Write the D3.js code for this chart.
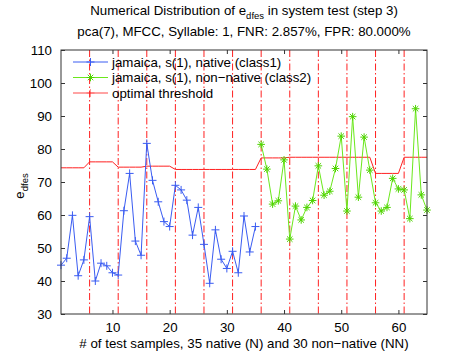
<!DOCTYPE html>
<html>
<head>
<meta charset="utf-8">
<script src="https://cdn.jsdelivr.net/npm/d3@7"></script>
<style>
  body { margin: 0; background: #fff; }
  text { font-family: "Liberation Sans", Arial, sans-serif; fill: #000; }
</style>
</head>
<body>
<div id="graph"></div>
<script>
// scores, one per test sample
var nativeScores = [44.8, 46.9, 59.9, 41.6, 46.4, 59.5, 40.0, 45.4, 44.6, 42.5,
                    41.8, 61.3, 72.6, 52.1, 47.8, 81.7, 70.5, 64.0, 58.0, 56.5,
                    69.0, 67.6, 64.5, 53.9, 62.3, 51.1, 39.3, 55.5, 46.6, 43.8,
                    49.0, 42.5, 59.7, 48.8, 56.5];
var nonNativeScores = [81.4, 73.9, 63.3, 64.3, 76.7, 52.7, 62.7, 58.5, 62.3, 64.4,
                       74.9, 66.0, 67.2, 74.1, 83.9, 61.2, 89.8, 65.4, 83.6, 73.6,
                       63.7, 61.2, 62.3, 71.1, 67.9, 67.6, 58.9, 92.2, 66.1, 61.5];
var thresholdLevels = [74.3, 74.3, 74.3, 74.3, 74.3, 76.1, 76.1, 76.1, 76.1, 76.1,
                       74.5, 74.5, 74.5, 74.5, 74.5, 74.8, 74.8, 74.8, 74.8, 74.8,
                       73.8, 73.8, 73.8, 73.8, 73.8, 73.8, 73.8, 73.8, 73.8, 73.8,
                       73.8, 73.8, 73.8, 73.8, 73.8, 77.3, 77.3, 77.3, 77.3, 77.3,
                       77.5, 77.5, 77.5, 77.5, 77.5, 77.5, 77.5, 77.5, 77.5, 77.5,
                       77.5, 77.5, 77.5, 77.5, 77.5, 72.6, 72.6, 72.6, 72.6, 72.6,
                       77.5, 77.5, 77.5, 77.5, 77.5];
var groupBreaks = [6, 11, 16, 21, 26, 31, 36, 41, 46, 51, 56, 61];
var xTicks = [10, 20, 30, 40, 50, 60];
var yTicks = [30, 40, 50, 60, 70, 80, 90, 100, 110];
var legendLabels = ["jamaica, s(1), native (class1)",
                    "jamaica, s(1), non\u2212native (class2)",
                    "optimal threshold"];

var W = 471, H = 354;
var margin = {top: 50, right: 44, bottom: 40, left: 61};
var width = W - margin.left - margin.right,
    height = H - margin.top - margin.bottom;
var fs = "13.3px";

var svg = d3.select("#graph")
  .append("svg")
    .attr("width", W)
    .attr("height", H);

var g = svg.append("g")
    .attr("transform", "translate(" + margin.left + "," + margin.top + ")");

var x = d3.scaleLinear().domain([1, thresholdLevels.length]).range([0, width]);
var y = d3.scaleLinear().domain([30, 110]).range([height, 0]);

var nativeData = nativeScores.map(function(v, i) { return {n: i + 1, v: v}; });
var nonNativeData = nonNativeScores.map(function(v, i) {
  return {n: nativeScores.length + i + 1, v: v};
});
var threshData = thresholdLevels.map(function(v, i) { return {n: i + 1, v: v}; });

var line = d3.line()
  .x(function(d) { return x(d.n); })
  .y(function(d) { return y(d.v); });

var blue = "#3a5cf2", green = "#6be81c", greenDark = "#4fd400", red = "#ff2020";

// group separators
g.selectAll(".sep")
  .data(groupBreaks)
  .enter().append("line")
    .attr("class", "sep")
    .attr("x1", function(d) { return x(d); })
    .attr("x2", function(d) { return x(d); })
    .attr("y1", 0)
    .attr("y2", height)
    .attr("stroke", red)
    .attr("stroke-width", 1)
    .attr("stroke-dasharray", "7,2.5,1.5,2.5");

// threshold
g.append("path")
  .datum(threshData)
  .attr("d", line)
  .attr("fill", "none")
  .attr("stroke", red)
  .attr("stroke-width", 1);

// native series
g.append("path")
  .datum(nativeData)
  .attr("d", line)
  .attr("fill", "none")
  .attr("stroke", blue)
  .attr("stroke-width", 1);

function plus(sel, s) {
  sel.append("line").attr("x1", -s).attr("x2", s).attr("y1", 0).attr("y2", 0);
  sel.append("line").attr("x1", 0).attr("x2", 0).attr("y1", -s).attr("y2", s);
}
function star(sel, s) {
  var d = s * 0.72;
  plus(sel, s);
  sel.append("line").attr("x1", -d).attr("x2", d).attr("y1", -d).attr("y2", d);
  sel.append("line").attr("x1", -d).attr("x2", d).attr("y1", d).attr("y2", -d);
}

g.selectAll(".pn")
  .data(nativeData)
  .enter().append("g")
    .attr("class", "pn")
    .attr("transform", function(d) { return "translate(" + x(d.n) + "," + y(d.v) + ")"; })
    .attr("stroke", blue)
    .attr("stroke-width", 1)
    .each(function() { plus(d3.select(this), 4); });

// non-native series
g.append("path")
  .datum(nonNativeData)
  .attr("d", line)
  .attr("fill", "none")
  .attr("stroke", green)
  .attr("stroke-width", 1);

g.selectAll(".pnn")
  .data(nonNativeData)
  .enter().append("g")
    .attr("class", "pnn")
    .attr("transform", function(d) { return "translate(" + x(d.n) + "," + y(d.v) + ")"; })
    .attr("stroke", greenDark)
    .attr("stroke-width", 1)
    .each(function() { star(d3.select(this), 3.8); });

// axes box, matlab style ticks pointing in
var axisColor = "#333";
g.append("rect")
  .attr("x", 0).attr("y", 0)
  .attr("width", width).attr("height", height)
  .attr("fill", "none")
  .attr("stroke", axisColor)
  .attr("stroke-width", 1);

var xAxis = g.append("g")
  .attr("transform", "translate(0," + height + ")")
  .call(d3.axisBottom(x).tickValues(xTicks).tickSizeInner(-4).tickSizeOuter(0).tickPadding(9));
var xTop = g.append("g")
  .call(d3.axisTop(x).tickValues(xTicks).tickSizeInner(-4).tickSizeOuter(0).tickFormat(""));
var yAxis = g.append("g")
  .call(d3.axisLeft(y).tickValues(yTicks).tickSizeInner(-4).tickSizeOuter(0).tickPadding(9));
var yRight = g.append("g")
  .attr("transform", "translate(" + width + ",0)")
  .call(d3.axisRight(y).tickValues(yTicks).tickSizeInner(-4).tickSizeOuter(0).tickFormat(""));

[xAxis, xTop, yAxis, yRight].forEach(function(a) {
  a.select(".domain").remove();
  a.selectAll(".tick line").attr("stroke", axisColor);
  a.selectAll("text")
    .style("font-size", fs)
    .style("font-family", "'Liberation Sans', Arial, sans-serif")
    .attr("fill", "#000");
});

// legend
var leg = g.append("g").attr("transform", "translate(12,12)");
var legColors = [blue, green, red];
legendLabels.forEach(function(lbl, i) {
  var row = leg.append("g").attr("transform", "translate(0," + (i * 15.5) + ")");
  row.append("line")
    .attr("x1", 0).attr("x2", 35)
    .attr("y1", 0).attr("y2", 0)
    .attr("stroke", legColors[i])
    .attr("stroke-width", i === 2 ? 1.6 : 1)
    .attr("stroke-opacity", i === 2 ? 0.55 : 1);
  var m = row.append("g")
    .attr("transform", "translate(17.5,0)")
    .attr("stroke", i === 1 ? greenDark : legColors[i])
    .attr("stroke-width", 1)
    .attr("stroke-opacity", i === 2 ? 0.45 : 1);
  if (i === 1) star(m, 3.8);
  else plus(m, 4);
  row.append("text")
    .attr("x", 39)
    .attr("y", 4.5)
    .style("font-size", fs)
    .text(lbl);
});

// titles
var cx = margin.left + width / 2;
var t1 = svg.append("text")
  .attr("x", cx).attr("y", 15)
  .attr("text-anchor", "middle")
  .style("font-size", fs);
t1.append("tspan").text("Numerical Distribution of e");
t1.append("tspan").attr("dy", 4).style("font-size", "9.5px").text("dfes");
t1.append("tspan").attr("dy", -4).text(" in system test (step 3)");

svg.append("text")
  .attr("x", cx).attr("y", 36)
  .attr("text-anchor", "middle")
  .style("font-size", fs)
  .text("pca(7), MFCC, Syllable: 1, FNR: 2.857%, FPR: 80.000%");

svg.append("text")
  .attr("x", cx).attr("y", 348)
  .attr("text-anchor", "middle")
  .style("font-size", fs)
  .text("# of test samples, 35 native (N) and 30 non\u2212native (NN)");

var yl = svg.append("text")
  .attr("transform", "translate(24," + (margin.top + height / 2 + 4) + ") rotate(-90)")
  .attr("text-anchor", "middle")
  .style("font-size", fs);
yl.append("tspan").text("e");
yl.append("tspan").attr("dy", 4).style("font-size", "9.5px").text("dfes");
</script>
</body>
</html>
